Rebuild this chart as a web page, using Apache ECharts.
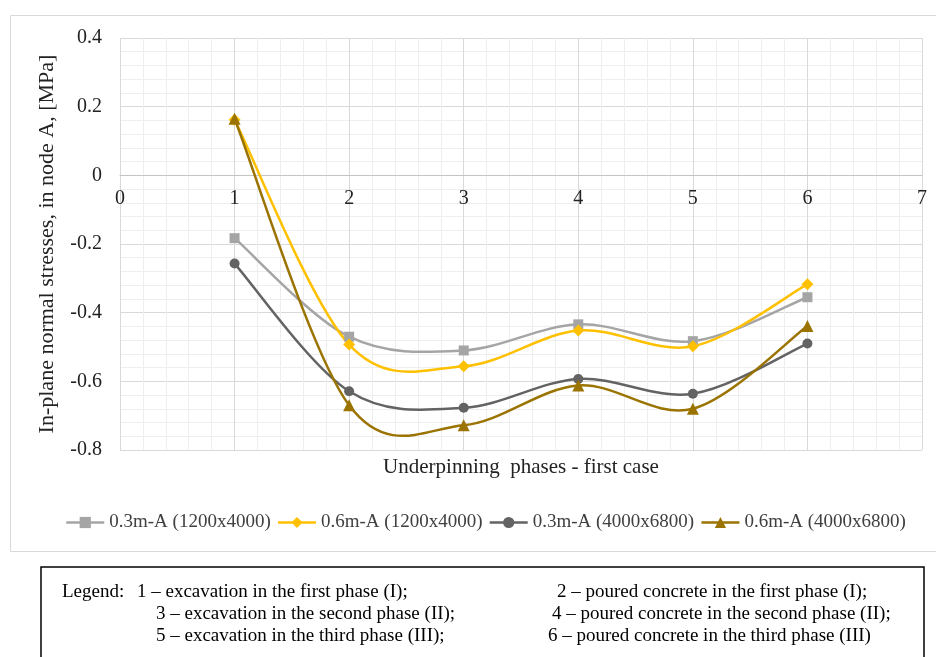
<!DOCTYPE html>
<html>
<head>
<meta charset="utf-8">
<script src="https://cdn.jsdelivr.net/npm/echarts@6/dist/echarts.min.js"></script>
<style>
  body { margin: 0; background: #fff; }
  #chart { width: 936px; height: 657px; }
</style>
</head>
<body>
<div id="chart"></div>
<script>
// phases on the x axis
var phases = [1, 2, 3, 4, 5, 6];
var xTicks = [0, 1, 2, 3, 4, 5, 6, 7];

// in-plane normal stresses [MPa], node A
var s03_1200 = [-0.183, -0.470, -0.510, -0.434, -0.483, -0.355];
var s06_1200 = [0.162, -0.493, -0.556, -0.452, -0.498, -0.317];
var s03_4000 = [-0.257, -0.629, -0.677, -0.593, -0.636, -0.490];
var s06_4000 = [0.165, -0.670, -0.728, -0.612, -0.680, -0.439];

var seriesNames = ['0.3m-A (1200x4000)', '0.6m-A (1200x4000)', '0.3m-A (4000x6800)', '0.6m-A (4000x6800)'];
var seriesColors = ['#a5a5a5', '#ffc000', '#636363', '#9a7300'];

// text of the legend box under the chart
var noteLines = [
  ['Legend:', '1 \u2013 excavation in the first phase (I);', '2 \u2013 poured concrete in the first phase (I);'],
  ['', '3 \u2013 excavation in the second phase (II);', '4 \u2013 poured concrete in the second phase (II);'],
  ['', '5 \u2013 excavation in the third phase (III);', '6 \u2013 poured concrete in the third phase (III)']
];

var serif = '"Liberation Serif", "DejaVu Serif", serif';

function pairs(values) {
  var out = [];
  for (var i = 0; i < phases.length; i++) {
    out.push([phases[i], values[i]]);
  }
  return out;
}

// markers only, the curve is drawn by the custom series below
function makeMarkers(name, values, color, symbol, size) {
  return {
    name: name,
    type: 'line',
    z: 3,
    symbol: symbol,
    symbolSize: size,
    itemStyle: { color: color },
    lineStyle: { color: color, width: 0 },
    data: pairs(values)
  };
}

// excel-like smoothed line: bezier segments, tangent = (next - prev) / 6
function makeCurve(name, values, color) {
  var n = values.length;
  return {
    name: name + ' curve',
    type: 'custom',
    z: 2,
    silent: true,
    encode: { x: 0, y: 1 },
    data: pairs(values),
    renderItem: function (params, api) {
      var i = params.dataIndex;
      if (i >= n - 1) return { type: 'group', children: [] };
      var p = [];
      for (var k = i - 1; k <= i + 2; k++) {
        var kk = Math.max(0, Math.min(n - 1, k));
        p.push(api.coord([phases[kk], values[kk]]));
      }
      return {
        type: 'bezierCurve',
        shape: {
          x1: p[1][0], y1: p[1][1],
          cpx1: p[1][0] + (p[2][0] - p[0][0]) / 6,
          cpy1: p[1][1] + (p[2][1] - p[0][1]) / 6,
          cpx2: p[2][0] - (p[3][0] - p[1][0]) / 6,
          cpy2: p[2][1] - (p[3][1] - p[1][1]) / 6,
          x2: p[2][0], y2: p[2][1]
        },
        style: { stroke: color, lineWidth: 2.5, fill: 'none' }
      };
    }
  };
}

var chart = echarts.init(document.getElementById('chart'), null, { renderer: 'canvas' });

// chart frame + legend box
var graphics = [
  {
    type: 'rect',
    shape: { x: 10.5, y: 15.5, width: 940, height: 536 },
    style: { fill: 'none', stroke: '#d9d9d9', lineWidth: 1 },
    silent: true
  },
  {
    type: 'rect',
    shape: { x: 41, y: 567, width: 883, height: 120 },
    style: { fill: 'none', stroke: '#000', lineWidth: 1.5 },
    silent: true
  }
];
var colX = [[62, 137, 557], [62, 156, 552], [62, 156, 548]];
var rowY = [592, 614, 636];
for (var r = 0; r < noteLines.length; r++) {
  for (var c = 0; c < 3; c++) {
    if (!noteLines[r][c]) continue;
    graphics.push({
      type: 'text',
      x: colX[r][c],
      y: rowY[r],
      style: {
        text: noteLines[r][c],
        font: '19px ' + serif,
        fill: '#000',
        verticalAlign: 'middle'
      },
      silent: true
    });
  }
}

var legendData = [];
for (var j = 0; j < seriesNames.length; j++) {
  legendData.push({
    name: seriesNames[j],
    lineStyle: { color: seriesColors[j], width: 2.5, opacity: 1 }
  });
}

var option = {
  backgroundColor: '#fff',
  animation: false,
  grid: {
    left: 120,
    right: 14,
    top: 38,
    bottom: 207,
    outerBoundsMode: 'none'
  },
  legend: {
    data: legendData,
    left: 65,
    top: 513,
    padding: 0,
    itemWidth: 38,
    itemHeight: 14,
    itemGap: 6,
    textStyle: { fontFamily: serif, fontSize: 19, color: '#404040' }
  },
  xAxis: [{
    // grid lines + axis title
    type: 'value',
    position: 'bottom',
    min: xTicks[0],
    max: xTicks[xTicks.length - 1],
    interval: 1,
    name: 'Underpinning  phases - first case',
    nameLocation: 'middle',
    nameGap: 7,
    nameTextStyle: { fontFamily: serif, fontSize: 21, color: '#222' },
    axisLine: { show: false, onZero: false },
    axisTick: { show: false },
    axisLabel: { show: false },
    splitLine: { show: true, lineStyle: { color: '#d9d9d9', width: 1 } },
    minorTick: { show: false, splitNumber: 5 },
    minorSplitLine: { show: true, lineStyle: { color: '#eeeeee', width: 1 } }
  }, {
    // the axis line at y = 0 with its labels
    type: 'value',
    position: 'top',
    offset: -137,
    min: xTicks[0],
    max: xTicks[xTicks.length - 1],
    interval: 1,
    axisLine: { show: true, onZero: false, lineStyle: { color: '#c4c4c4', width: 1 } },
    axisTick: { show: false },
    axisLabel: { inside: true, margin: 14, fontFamily: serif, fontSize: 20, color: '#222' },
    splitLine: { show: false }
  }],
  yAxis: {
    type: 'value',
    min: -0.8,
    max: 0.4,
    interval: 0.2,
    name: 'In-plane normal stresses, in node A, [MPa]',
    nameLocation: 'middle',
    nameGap: 62,
    nameTextStyle: { fontFamily: serif, fontSize: 22, color: '#222' },
    axisLine: { show: false, onZero: false },
    axisTick: { show: false },
    axisLabel: {
      margin: 18,
      fontFamily: serif,
      fontSize: 20,
      color: '#222',
      formatter: function (v) {
        var t = Math.round(v * 10) / 10;
        return t === 0 ? '0' : String(t);
      }
    },
    splitLine: { show: true, lineStyle: { color: '#d9d9d9', width: 1 } },
    minorTick: { show: false, splitNumber: 5 },
    minorSplitLine: { show: true, lineStyle: { color: '#eeeeee', width: 1 } }
  },
  series: [
    makeCurve(seriesNames[0], s03_1200, seriesColors[0]),
    makeCurve(seriesNames[1], s06_1200, seriesColors[1]),
    makeCurve(seriesNames[2], s03_4000, seriesColors[2]),
    makeCurve(seriesNames[3], s06_4000, seriesColors[3]),
    makeMarkers(seriesNames[0], s03_1200, seriesColors[0], 'rect', 10),
    makeMarkers(seriesNames[1], s06_1200, seriesColors[1], 'diamond', 12),
    makeMarkers(seriesNames[2], s03_4000, seriesColors[2], 'circle', 10),
    makeMarkers(seriesNames[3], s06_4000, seriesColors[3], 'triangle', 12)
  ],
  graphic: graphics
};

chart.setOption(option);
</script>
</body>
</html>
